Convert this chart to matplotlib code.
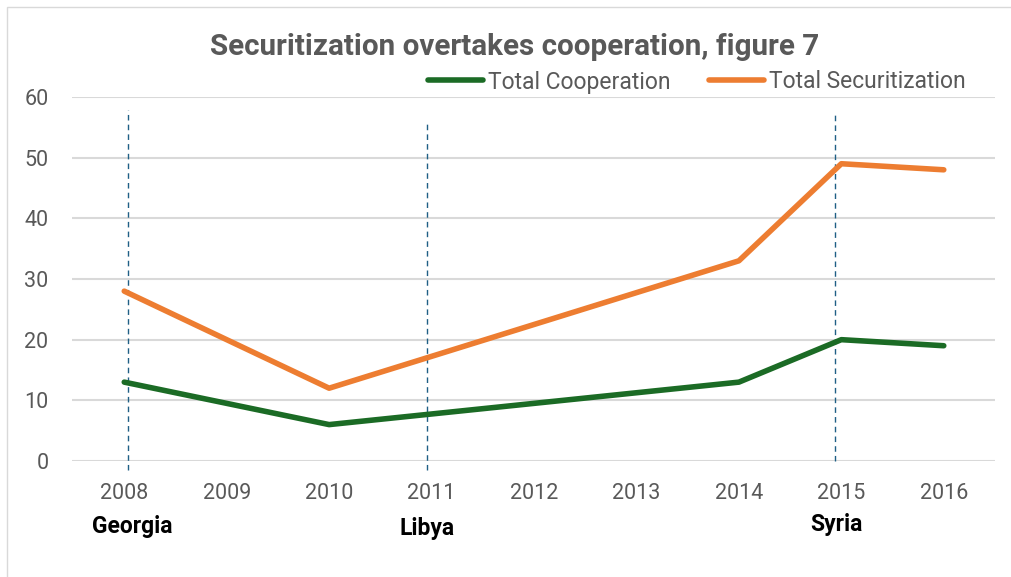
import matplotlib
matplotlib.use("Agg")
import matplotlib.pyplot as plt
from matplotlib.patches import Rectangle

# data (None = no value that year)
years = [2008, 2009, 2010, 2011, 2012, 2013, 2014, 2015, 2016]
cooperation = [13, None, 6, None, None, None, 13, 20, 19]
securitization = [28, None, 12, None, None, None, 33, 49, 48]

# conflict markers (hand-placed in the original, so slightly off the ticks)
event_names = ["Georgia", "Libya", "Syria"]
event_x = [2008.04, 2010.96, 2014.94]
event_tops = [57.8, 56.2, 57.2]
event_bottoms = [-1.5, -1.5, 0]
label_x = [2008.075, 2010.956, 2014.951]
label_y = [-11.9, -12.2, -11.5]

plt.rcParams["font.family"] = ["Roboto", "DejaVu Sans"]

GRAY = "#595959"
GREEN = "#1b6b25"
ORANGE = "#ed7d31"
DASH = "#1f5f85"

fig = plt.figure(figsize=(10.11, 5.77), dpi=100)
fig.patches.append(Rectangle((7 / 1011, -0.1), 1.2, 1 - 7 / 577 + 0.1,
                             transform=fig.transFigure, fill=False,
                             edgecolor="#d9d9d9", linewidth=1))
ax = fig.add_axes([72 / 1011, 1 - 461 / 577, (995 - 72) / 1011, (461 - 97) / 577])


def valid(vals):
    xs = [years[i] for i, v in enumerate(vals) if v is not None]
    ys = [v for v in vals if v is not None]
    return xs, ys


cx, cy = valid(cooperation)
sx, sy = valid(securitization)
ax.plot(cx, cy, color=GREEN, linewidth=4, solid_capstyle="round",
        solid_joinstyle="round", label="Total Cooperation", zorder=3)
ax.plot(sx, sy, color=ORANGE, linewidth=4, solid_capstyle="round",
        solid_joinstyle="round", label="Total Securitization", zorder=3)

# dashed event lines and labels
for ex, top, bot in zip(event_x, event_tops, event_bottoms):
    ax.plot([ex, ex], [bot, top], color=DASH, linewidth=1, linestyle=(0, (4, 3)),
            clip_on=False, zorder=2)
for name, lx, ly in zip(event_names, label_x, label_y):
    ax.text(lx, ly, name, ha="center", va="baseline",
            fontsize=16.5, fontweight="bold", color="black", clip_on=False)

ax.set_xlim(2007.49, 2016.5)
ax.set_ylim(0, 60)
ax.set_yticks(range(0, 61, 10))
ax.set_xticks(years)
ax.set_xticklabels([str(y) for y in years])
ax.yaxis.grid(True, color="#d9d9d9", linewidth=1.5)
ax.set_axisbelow(True)
for s in ax.spines.values():
    s.set_visible(False)
ax.tick_params(axis="both", length=0, labelsize=15.5, labelcolor=GRAY)
ax.tick_params(axis="x", pad=16)
ax.tick_params(axis="y", pad=17)

fig.text(515 / 1011, 1 - 47 / 577, "Securitization overtakes cooperation, figure 7",
         ha="center", va="center", fontsize=21.3, fontweight="bold", color=GRAY)

fig.legend(loc="center", bbox_to_anchor=(697 / 1011, 1 - 82 / 577), ncol=2,
           frameon=False, fontsize=16.5, handlelength=2.4, handletextpad=0.2,
           columnspacing=1.7, labelcolor=GRAY)

fig.savefig("out.png", dpi=100)
